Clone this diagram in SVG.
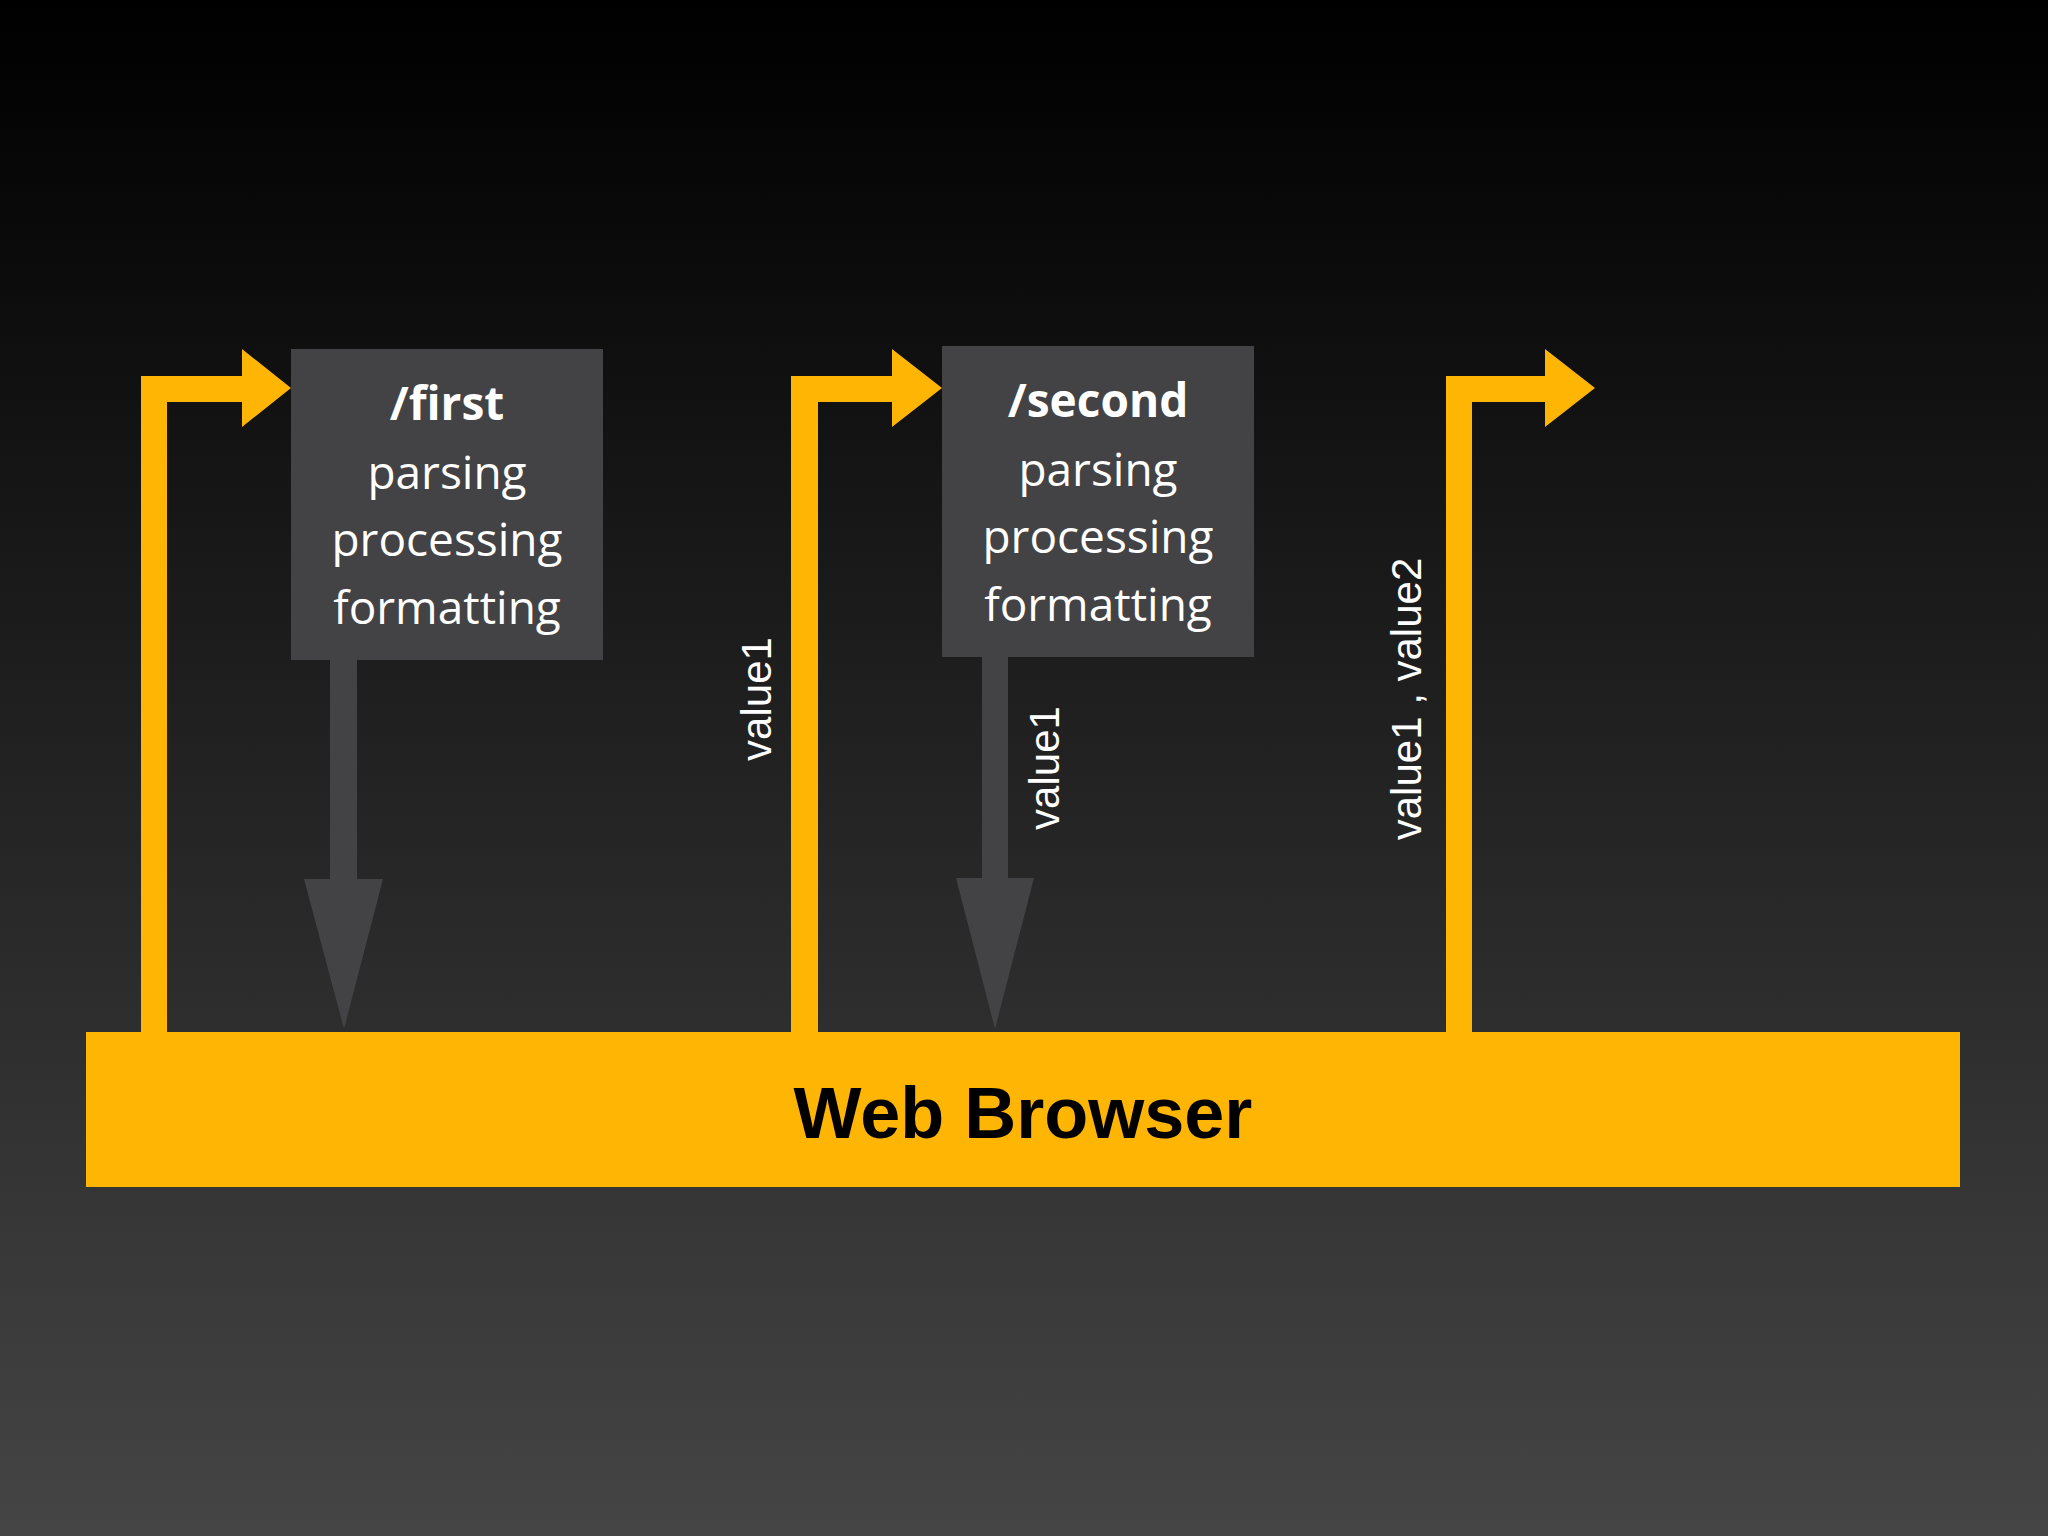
<svg xmlns="http://www.w3.org/2000/svg" width="2048" height="1536" viewBox="0 0 2048 1536">
<defs>
<linearGradient id="bg" x1="0" y1="0" x2="0" y2="1">
<stop offset="0" stop-color="#000"/>
<stop offset="0.08" stop-color="#050505"/>
<stop offset="1" stop-color="#454545"/>
</linearGradient>
<style>
.box{fill:#434244}
.t{font-family:"Open Sans","Liberation Sans",sans-serif;font-size:46px;fill:#fff;text-anchor:middle}
.b{font-weight:bold}
.v{font-family:"Liberation Sans",sans-serif;font-size:42px;fill:#fff;text-anchor:middle}
.y{fill:#FFB503}
.g{fill:#434244}
</style>
</defs>
<rect width="2048" height="1536" fill="url(#bg)"/>
<g id="connectors">
<polygon class="y" points="141,1032 141,376 242,376 242,349 291,388 242,427 242,402 167,402 167,1032"/>
<polygon class="y" points="791,1032 791,376 892,376 892,349 942,388 892,427 892,402 818,402 818,1032"/>
<polygon class="y" points="1446,1032 1446,376 1545,376 1545,349 1595,388 1545,427 1545,402 1472,402 1472,1032"/>
<polygon class="g" points="330,660 357,660 357,879 383,879 344,1029 304,879 330,879"/>
<polygon class="g" points="982,657 1008,657 1008,878 1034,878 995,1029 956,878 982,878"/>
<text class="v" transform="translate(771,699) rotate(-90)">value1</text>
<text class="v" transform="translate(1059,768) rotate(-90)">value1</text>
<text class="v" transform="translate(1421,699) rotate(-90)">value1 , value2</text>
</g>
<g id="first">
<rect class="box" x="291" y="349" width="312" height="311"/>
<text class="t b" x="447" y="420">/first</text>
<text class="t" x="447" y="489">parsing</text>
<text class="t" x="447" y="556">processing</text>
<text class="t" x="447" y="624">formatting</text>
</g>
<g id="second">
<rect class="box" x="942" y="346" width="312" height="311"/>
<text class="t b" x="1098" y="417">/second</text>
<text class="t" x="1098" y="486">parsing</text>
<text class="t" x="1098" y="553">processing</text>
<text class="t" x="1098" y="621">formatting</text>
</g>
<g id="browser">
<rect class="y" x="86" y="1032" width="1874" height="155"/>
<text x="1023" y="1138" font-family="Liberation Sans,sans-serif" font-weight="bold" font-size="72" fill="#000" text-anchor="middle">Web Browser</text>
</g>
</svg>
